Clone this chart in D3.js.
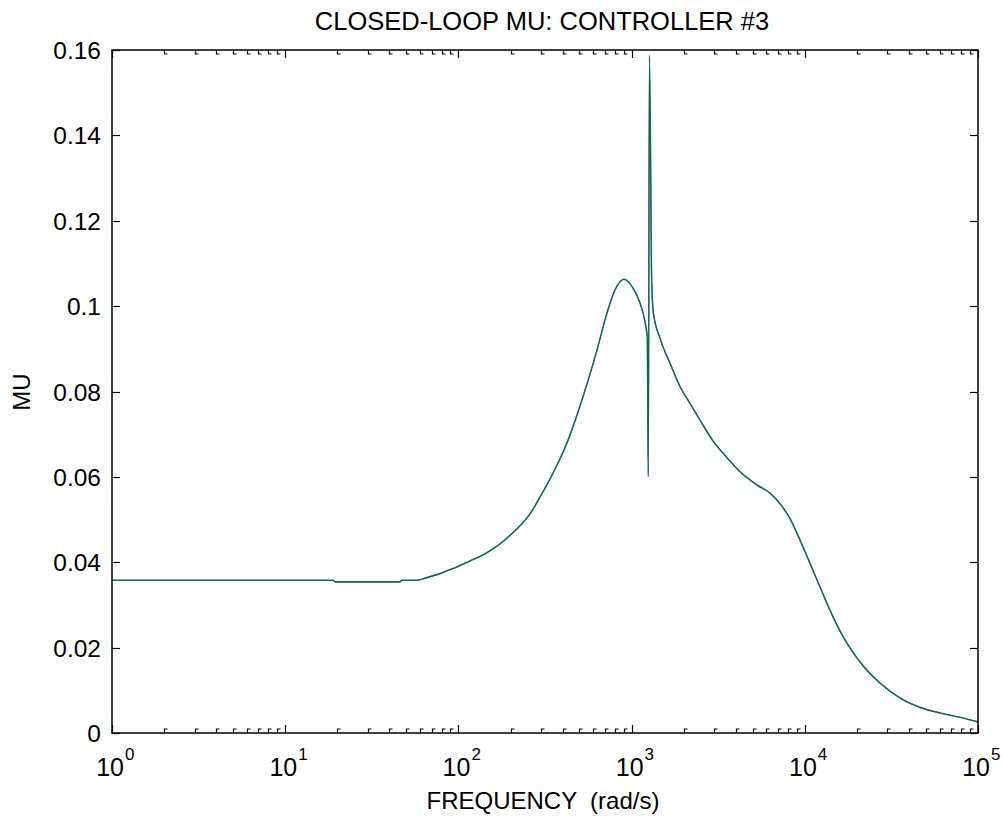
<!DOCTYPE html>
<html>
<head>
<meta charset="utf-8">
<script src="https://cdn.jsdelivr.net/npm/d3@7/dist/d3.min.js"></script>
<style>
  html, body { margin: 0; padding: 0; background: #fff; }
  svg text { font-family: "Liberation Sans", Arial, sans-serif; fill: #000; }
</style>
</head>
<body>
<svg id="chart" width="1002" height="818"></svg>
<script>
// ---- data ----
const frequency = [1, 5, 18.9, 19.5, 46, 47, 57.7, 65.9, 75.2, 86, 98, 116.7, 140, 174, 198.6, 230, 259, 296, 352, 424, 484, 553, 631, 721, 802, 903, 1019, 1117, 1195, 1232, 1248, 1268, 1306, 1334, 1458, 1667, 1901, 2173, 2483, 2953, 3556, 4227, 5297, 6300, 7200, 8220, 9380, 10700, 12240, 13970, 15960, 18240, 22280, 27200, 35480, 46290, 60400, 78700, 100000];
const muBlue = [0.0358, 0.0358, 0.0358, 0.0354, 0.0354, 0.0358, 0.0358, 0.0364, 0.0371, 0.0380, 0.0389, 0.0403, 0.0418, 0.0443, 0.0463, 0.0488, 0.0513, 0.0553, 0.0609, 0.0680, 0.0745, 0.0818, 0.0897, 0.0984, 0.1038, 0.1063, 0.1042, 0.1008, 0.0963, 0.0925, 0.0600, 0.1588, 0.1061, 0.0986, 0.0925, 0.0866, 0.0812, 0.0772, 0.0733, 0.0684, 0.0645, 0.0612, 0.0581, 0.0562, 0.0537, 0.0502, 0.0452, 0.0398, 0.0342, 0.0288, 0.0239, 0.0199, 0.0152, 0.0117, 0.0082, 0.0060, 0.0047, 0.0037, 0.0026];
const muGreen = [0.0358, 0.0358, 0.0358, 0.0354, 0.0354, 0.0358, 0.0358, 0.0364, 0.0371, 0.0380, 0.0389, 0.0403, 0.0418, 0.0443, 0.0463, 0.0488, 0.0513, 0.0553, 0.0609, 0.0680, 0.0745, 0.0818, 0.0897, 0.0984, 0.1038, 0.1063, 0.1042, 0.1008, 0.0963, 0.0925, 0.0610, 0.1580, 0.1061, 0.0986, 0.0925, 0.0866, 0.0812, 0.0772, 0.0733, 0.0684, 0.0645, 0.0612, 0.0581, 0.0562, 0.0537, 0.0502, 0.0452, 0.0398, 0.0342, 0.0288, 0.0239, 0.0199, 0.0152, 0.0117, 0.0082, 0.0060, 0.0047, 0.0037, 0.0026];
const xTickExponents = [0, 1, 2, 3, 4, 5];
const yTicks = [0, 0.02, 0.04, 0.06, 0.08, 0.1, 0.12, 0.14, 0.16];
const yTickLabels = ["0", "0.02", "0.04", "0.06", "0.08", "0.1", "0.12", "0.14", "0.16"];
const titleText = "CLOSED-LOOP MU: CONTROLLER #3";
const xLabelText = "FREQUENCY  (rad/s)";
const yLabelText = "MU";

// ---- layout ----
const L = 112, R = 978, T = 50, B = 733;
const svg = d3.select("#chart");
const x = d3.scaleLog().domain([1, 1e5]).range([L, R]);
const y = d3.scaleLinear().domain([0, 0.16]).range([B, T]);

// minor ticks (hook style, like the reference)
const minor = [];
for (let e = 0; e < 5; e++) for (let m = 2; m <= 9; m++) minor.push(m * Math.pow(10, e));
const g = svg.append("g").attr("stroke", "#000").attr("stroke-width", 1.2).attr("fill", "none");
minor.forEach(v => {
  const px = Math.round(x(v)) + 0.5;
  g.append("path").attr("d", `M${px},${B}V${B - 4}h3`);
  g.append("path").attr("d", `M${px},${T}V${T + 4}h3`);
});
xTickExponents.forEach(e => {
  const px = Math.round(x(Math.pow(10, e))) + 0.5;
  g.append("path").attr("d", `M${px},${B}V${B - 8}`);
  g.append("path").attr("d", `M${px},${T}V${T + 8}`);
});
yTicks.forEach(v => {
  const py = Math.round(y(v)) + 0.5;
  g.append("path").attr("d", `M${L},${py}h8`);
  g.append("path").attr("d", `M${R},${py}h-8`);
});

// data lines
const line = d3.line().x(d => x(d[0])).y(d => y(d[1])).curve(d3.curveMonotoneX);
svg.append("path").datum(frequency.map((f, i) => [f, muBlue[i]]))
  .attr("d", line).attr("fill", "none").attr("stroke", "#4d7fae").attr("stroke-width", 1.6);
svg.append("path").datum(frequency.map((f, i) => [f, muGreen[i]]))
  .attr("d", line).attr("fill", "none").attr("stroke", "#0d6b3a").attr("stroke-width", 1.1);

// frame
svg.append("rect").attr("x", L).attr("y", T).attr("width", R - L).attr("height", B - T)
  .attr("fill", "none").attr("stroke", "#000").attr("stroke-width", 1.5);

// y tick labels
svg.append("g").selectAll("text").data(yTicks).join("text")
  .attr("x", 101).attr("y", (d) => y(d) + 9)
  .attr("text-anchor", "end").attr("font-size", 24.5)
  .text((d, i) => yTickLabels[i]);

// x tick labels (10^n)
xTickExponents.forEach(e => {
  const px = x(Math.pow(10, e));
  svg.append("text").attr("x", px + 12).attr("y", 776).attr("font-size", 25).attr("text-anchor", "end").text("10");
  svg.append("text").attr("x", px + 13).attr("y", 760).attr("font-size", 17).text(String(e));
});

// title & labels
svg.append("text").attr("x", 542).attr("y", 30).attr("text-anchor", "middle")
  .attr("font-size", 25.5).text(titleText);
svg.append("text").attr("x", 543).attr("y", 809).attr("text-anchor", "middle")
  .attr("font-size", 24).style("white-space", "pre").text(xLabelText);
svg.append("text").attr("transform", "translate(30,392) rotate(-90)").attr("text-anchor", "middle")
  .attr("font-size", 24).text(yLabelText);
</script>
</body>
</html>
